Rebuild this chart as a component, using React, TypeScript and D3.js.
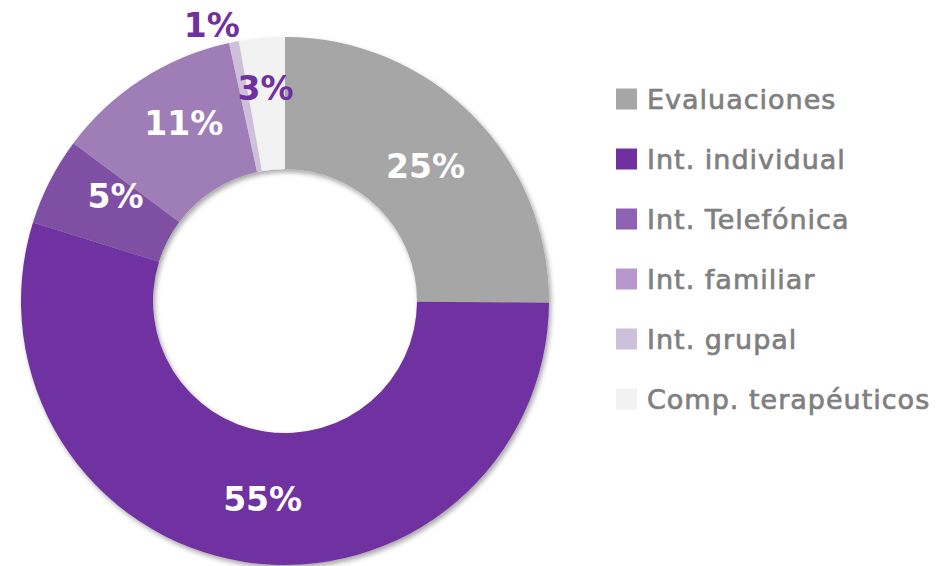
import React from 'react';
import * as d3 from 'd3';

// slice data, clockwise from 12 o'clock (shares)
const categories = [
  'Evaluaciones',
  'Int. individual',
  'Int. Telefónica',
  'Int. familiar',
  'Int. grupal',
  'Comp. terapéuticos',
];
const shares = [25.1, 54.7, 5.4, 11.4, 0.6, 2.8];
const sliceColors = ['#a6a6a6', '#7030a0', '#7f4fa3', '#9f7db6', '#ccc0da', '#f2f2f2'];
const legendColors = ['#a6a6a6', '#7030a0', '#8e62b2', '#b897cf', '#ccc0da', '#f2f2f2'];
const labelColors = ['#ffffff', '#ffffff', '#ffffff', '#ffffff', '#7030a0', '#7030a0'];

// label placement tweaks (Excel doesn't put them exactly on the centroid)
const labelRadius = [198, 198, 198, 198, 280, 198];
const labelNudge = [
  [0, 5],
  [8, 3],
  [7, -15],
  [6, -11],
  [-19, -1],
  [-2, -15],
];

const width = 948;
const height = 566;
const cx = 285;
const cy = 301;
const outerR = 264;
const innerR = 132;
const font = "'Century Gothic', 'DejaVu Sans', sans-serif";

export default function App() {
  const pie = d3
    .pie<number>()
    .sort(null)
    .startAngle(0)
    .endAngle(2 * Math.PI)
    .value((d) => d);
  const arcs = pie(shares);

  const arc = d3.arc<d3.PieArcDatum<number>>().innerRadius(innerR).outerRadius(outerR);

  const legendY = d3
    .scalePoint<string>()
    .domain(categories)
    .range([99, 399]);

  return (
    <svg
      width={width}
      height={height}
      style={{ position: 'absolute', left: 0, top: 0 }}
    >
      <defs>
        <filter id='shadow' x='-20%' y='-20%' width='140%' height='140%'>
          <feDropShadow dx='2' dy='3' stdDeviation='2.5' floodColor='#000' floodOpacity='0.35' />
        </filter>
      </defs>
      <g transform={`translate(${cx},${cy})`} filter='url(#shadow)'>
        {arcs.map((a, i) => (
          <path key={i} d={arc(a) || ''} fill={sliceColors[i]} />
        ))}
      </g>
      <g transform={`translate(${cx},${cy})`}>
        {arcs.map((a, i) => {
          const mid = (a.startAngle + a.endAngle) / 2;
          const r = labelRadius[i];
          const x = r * Math.sin(mid) + labelNudge[i][0];
          const y = -r * Math.cos(mid) + labelNudge[i][1];
          return (
            <text
              key={i}
              x={x}
              y={y}
              textAnchor='middle'
              dominantBaseline='central'
              fill={labelColors[i]}
              fontFamily={font}
              fontWeight='bold'
              fontSize={33}
            >
              {Math.round(shares[i])}%
            </text>
          );
        })}
      </g>
      <g>
        {categories.map((c, i) => (
          <g key={c} transform={`translate(616,${legendY(c)})`}>
            <rect x={0} y={-10.5} width={21} height={21} fill={legendColors[i]} />
            <text
              x={31}
              y={0}
              dominantBaseline='central'
              fill='#7f7f7f'
              stroke='#7f7f7f'
              strokeWidth={0.7}
              letterSpacing={1}
              fontFamily={font}
              fontSize={27}
            >
              {c}
            </text>
          </g>
        ))}
      </g>
    </svg>
  );
}
